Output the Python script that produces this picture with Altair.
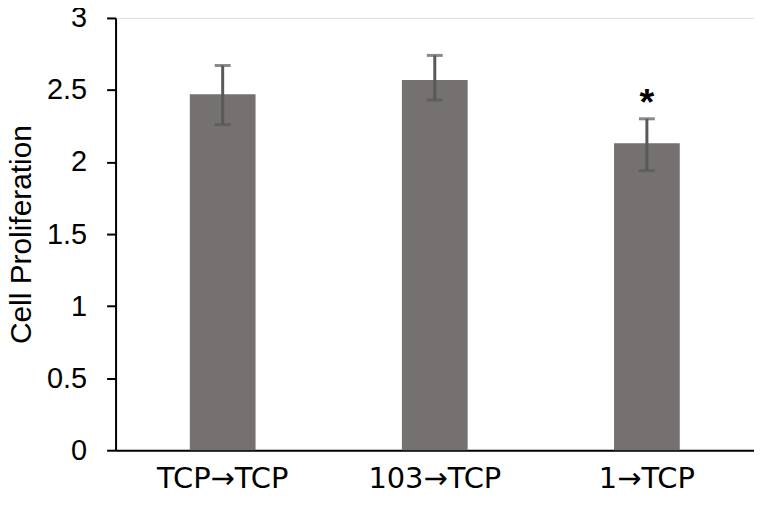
import altair as alt
import pandas as pd

categories = ["TCP→TCP", "103→TCP", "1→TCP"]
values = [2.47, 2.57, 2.13]
err_lo = [2.26, 2.43, 1.94]
err_hi = [2.67, 2.74, 2.30]
marks = ["", "", "*"]

df = pd.DataFrame({
    "cat": categories,
    "val": values,
    "lo": err_lo,
    "hi": err_hi,
    "mark": marks,
})

FONT = "Liberation Sans"

x_enc = alt.X(
    "cat:N",
    sort=categories,
    scale=alt.Scale(paddingInner=0.69, paddingOuter=0.35),
    axis=alt.Axis(
        title=None,
        labelAngle=0,
        ticks=False,
        domainColor="black",
        domainWidth=2,
        labelFontSize=29,
        labelFont="DejaVu Sans",
        labelColor="black",
        labelPadding=14,
    ),
)

y_scale = alt.Scale(domain=[0, 3], nice=False)

bars = alt.Chart(df).mark_bar(color="#767171").encode(
    x=x_enc,
    y=alt.Y(
        "val:Q",
        scale=y_scale,
        axis=alt.Axis(
            title="Cell Proliferation",
            values=[0, 0.5, 1, 1.5, 2, 2.5, 3],
            format="~g",
            grid=False,
            domainColor="black",
            domainWidth=2,
            tickColor="black",
            tickWidth=2,
            tickSize=9,
            labelFontSize=29,
            labelFont=FONT,
            labelColor="black",
            labelPadding=20,
            titleFontSize=30,
            titleFont=FONT,
            titleFontWeight="normal",
            titleColor="black",
            titleAngle=270,
            titleAlign="center",
            titleBaseline="alphabetic",
            titleX=-85,
            titleY=217,
        ),
    ),
)

err_color = "#595959"

rules = alt.Chart(df).mark_rule(color=err_color, strokeWidth=3).encode(
    x=alt.X("cat:N", sort=categories),
    y=alt.Y("lo:Q", scale=y_scale),
    y2="hi:Q",
)

caps_lo = alt.Chart(df).mark_tick(color=err_color, thickness=3, size=16, orient="horizontal").encode(
    x=alt.X("cat:N", sort=categories),
    y=alt.Y("lo:Q", scale=y_scale),
)
caps_hi = alt.Chart(df).mark_tick(color=err_color, thickness=3, size=16, orient="horizontal").encode(
    x=alt.X("cat:N", sort=categories),
    y=alt.Y("hi:Q", scale=y_scale),
)

star = alt.Chart(df).mark_text(
    fontSize=38, fontWeight="bold", font=FONT, color="black", baseline="alphabetic", dy=-4
).encode(
    x=alt.X("cat:N", sort=categories),
    y=alt.Y("hi:Q", scale=y_scale),
    text="mark:N",
)

chart = alt.layer(bars, rules, caps_lo, caps_hi, star).properties(
    width=641,
    height=434,
    autosize=alt.AutoSizeParams(type="none"),
    padding={"left": 108, "top": 9, "right": 0, "bottom": 46},
).configure_view(stroke=None).configure(background="white")

chart.save("out.html", embed_options={"renderer": "svg", "actions": False})
